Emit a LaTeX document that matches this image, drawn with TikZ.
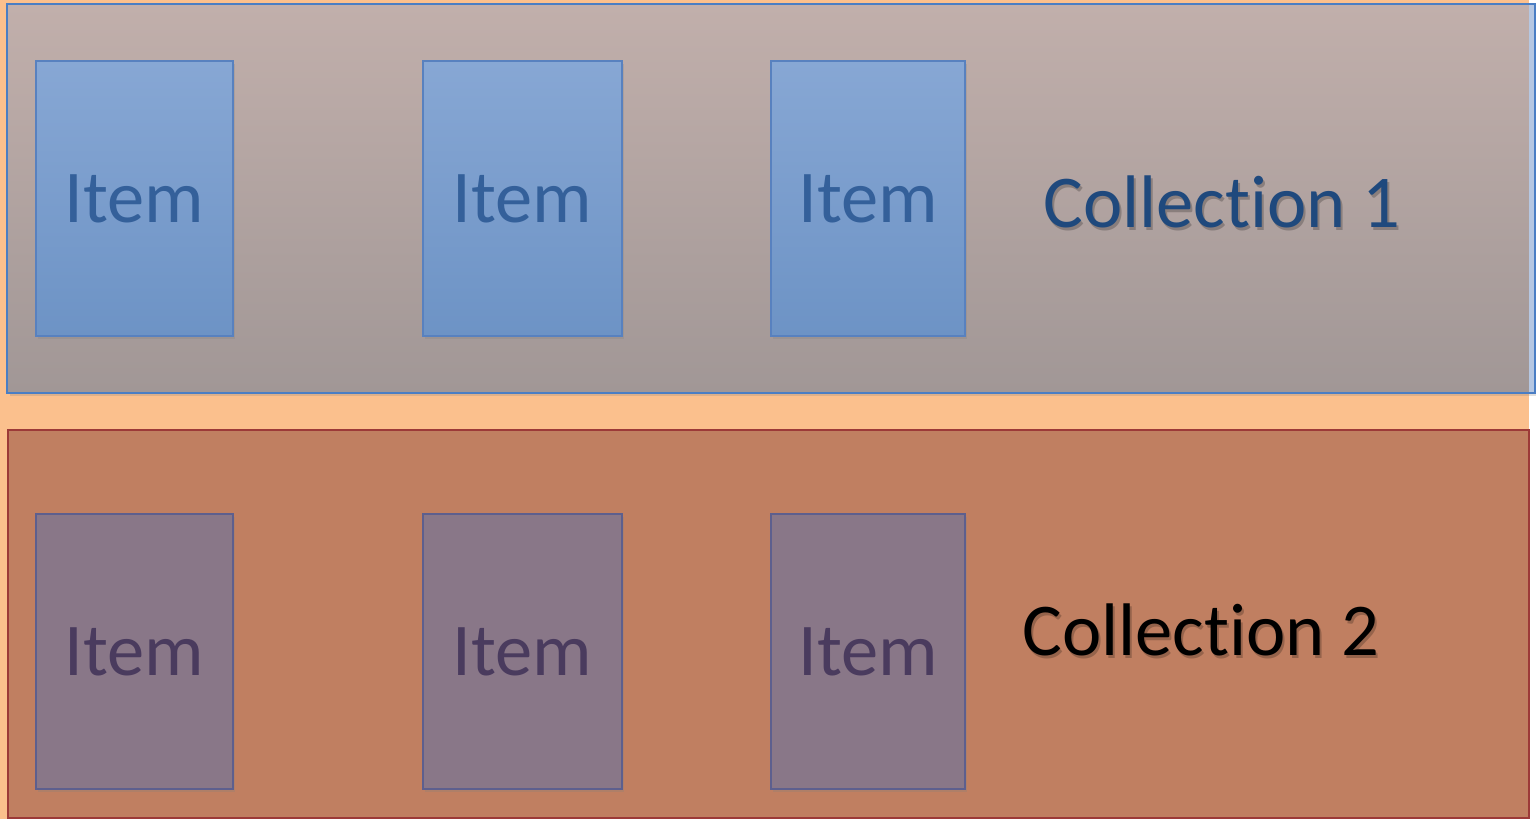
\documentclass[tikz,border=0pt]{standalone}
\usepackage{fontspec}
\setmainfont{Carlito}[Ligatures=CommonOff]
\usetikzlibrary{shadows}
\definecolor{bgor}{HTML}{FBC08D}
\definecolor{boxAtop}{HTML}{C1AFAB}
\definecolor{boxAbot}{HTML}{A19796}
\definecolor{boxAedge}{HTML}{4A7EC4}
\definecolor{boxAstrip}{HTML}{B5C7E2}
\definecolor{boxBfill}{HTML}{C07F61}
\definecolor{boxBedge}{HTML}{9C3A38}
\definecolor{itemtop}{HTML}{87A7D4}
\definecolor{itembot}{HTML}{6D93C5}
\definecolor{itemedge}{HTML}{5881BF}
\definecolor{itemtext}{HTML}{34609A}
\definecolor{pitem}{HTML}{897788}
\definecolor{pitemedge}{HTML}{5D5F8E}
\definecolor{pitemtext}{HTML}{4A3B5E}
\definecolor{coltext}{HTML}{1F497D}
\begin{document}
\begin{tikzpicture}[x=1pt,y=-1pt,
  bigfont/.style={font=\fontsize{74.5}{86}\selectfont},
  itemA/.style={draw=itemedge, line width=1.6pt, top color=itemtop, bottom color=itembot,
    minimum height=275pt, inner sep=0pt, bigfont, text=itemtext,
    drop shadow={opacity=0.25, shadow xshift=2pt, shadow yshift=-3pt}},
  itemB/.style={draw=pitemedge, line width=1.6pt, fill=pitem,
    minimum height=275pt, inner sep=0pt, bigfont, text=pitemtext,
    drop shadow={opacity=0.25, shadow xshift=2pt, shadow yshift=-3pt}},
  tshadow/.style={bigfont, text=black, opacity=0.22},
  collbox/.style={inner sep=0pt, line width=2pt}
]
\useasboundingbox (0,0) rectangle (1540,819);
\fill[white] (0,0) rectangle (1540,819);
\fill[bgor] (0,0) rectangle (1529,819);
% top collection box
\node[collbox, top color=boxAtop, bottom color=boxAbot, minimum width=1526pt, minimum height=387pt,
  drop shadow={opacity=0.25, shadow xshift=2pt, shadow yshift=-4pt}] (top) at (771,198.5) {};
\fill[boxAstrip] (1529,5) rectangle (1534,392);
\draw[boxAedge, line width=2pt] (top.north west) rectangle (top.south east);
% bottom collection box
\node[collbox, draw=boxBedge, fill=boxBfill, minimum width=1521pt, minimum height=388pt] (bot) at (768.5,624) {};
% items in collection 1
\node[itemA, minimum width=197pt] (a1) at (134.5,198.5) {Item};
\node[itemA, minimum width=199pt] (a2) at (522.5,198.5) {Item};
\node[itemA, minimum width=194pt] (a3) at (868,198.5) {Item};
% items in collection 2
\node[itemB, minimum width=197pt] (b1) at (134.5,651.5) {Item};
\node[itemB, minimum width=199pt] (b2) at (522.5,651.5) {Item};
\node[itemB, minimum width=194pt] (b3) at (868,651.5) {Item};
% collection labels
\node[tshadow] (c1s) at (1224,205) {Collection 1};
\node[bigfont, text=coltext] (c1) at (1222,202) {Collection 1};
\node[tshadow] (c2s) at (1203,633) {Collection 2};
\node[bigfont, text=black] (c2) at (1201,630) {Collection 2};
\end{tikzpicture}
\end{document}
